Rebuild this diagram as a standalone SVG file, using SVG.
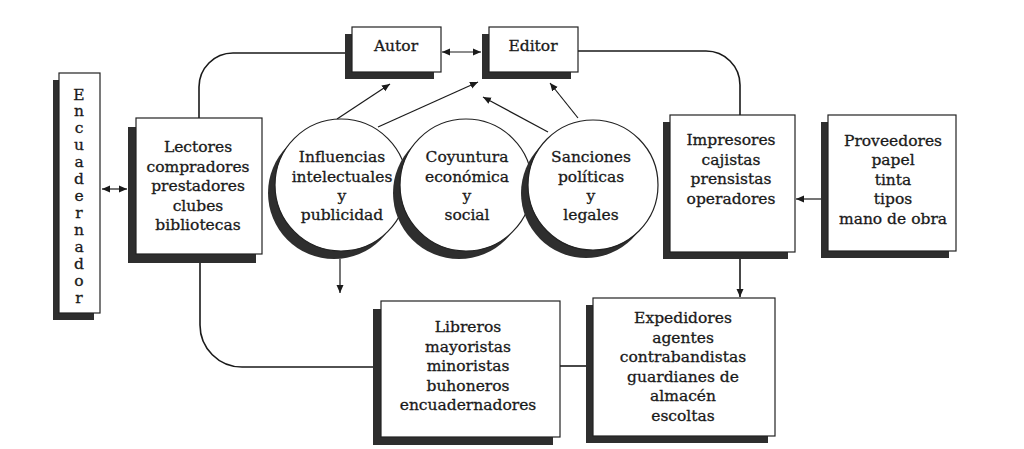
<svg xmlns="http://www.w3.org/2000/svg" width="1024" height="449" viewBox="0 0 1024 449">
<style>
.bx{fill:#fff;stroke:#222;stroke-width:1.2}
.sh{fill:#2e2e2e}
.t{font-family:"DejaVu Serif",serif;font-size:15.5px;fill:#1a1a1a;stroke:#1a1a1a;stroke-width:0.3;text-anchor:middle}
.ln{fill:none;stroke:#1a1a1a;stroke-width:1.6}
.ar{fill:none;stroke:#1a1a1a;stroke-width:1.2}
</style>
<defs>
<marker id="ah" markerUnits="userSpaceOnUse" markerWidth="9" markerHeight="8" refX="8" refY="4" orient="auto-start-reverse">
<path d="M0,0.5 L8,4 L0,7.5 z" fill="#1a1a1a"/>
</marker>
</defs>
<rect width="1024" height="449" fill="#fff"/>

<g id="connectors">
<path class="ln" d="M199,118 V87 A34,34 0 0 1 233,53 H345"/>
<path class="ln" d="M578,51 H706 A34,34 0 0 1 740,85 V115"/>
<path class="ln" d="M200,263 V325 A42,42 0 0 0 242,367 H373"/>
<path class="ln" d="M560,366 H586"/>
<path class="ar" d="M102,189 H127" marker-start="url(#ah)" marker-end="url(#ah)"/>
<path class="ar" d="M442,52 H481" marker-start="url(#ah)" marker-end="url(#ah)"/>
<path class="ar" d="M337,119 L390,84" marker-end="url(#ah)"/>
<path class="ar" d="M378,127 L478,82" marker-end="url(#ah)"/>
<path class="ar" d="M548,132 L483,97" marker-end="url(#ah)"/>
<path class="ar" d="M578,118 L550,83" marker-end="url(#ah)"/>
<path class="ar" d="M340,259 V293" marker-end="url(#ah)"/>
<path class="ar" d="M821,199 H796" marker-end="url(#ah)"/>
<path class="ln" d="M740,259 V297" marker-end="url(#ah)"/>
</g>

<g id="encuadernador">
<rect class="sh" x="53" y="80" width="41" height="240"/>
<rect class="bx" x="59" y="73" width="41" height="240"/>
<text class="t" x="79" y="99.5">E</text>
<text class="t" x="79" y="116">n</text>
<text class="t" x="79" y="133">c</text>
<text class="t" x="79" y="150">u</text>
<text class="t" x="79" y="167">a</text>
<text class="t" x="79" y="184">d</text>
<text class="t" x="79" y="201">e</text>
<text class="t" x="79" y="218">r</text>
<text class="t" x="79" y="235">n</text>
<text class="t" x="79" y="252">a</text>
<text class="t" x="79" y="269">d</text>
<text class="t" x="79" y="286">o</text>
<text class="t" x="79" y="303">r</text>
</g>

<g id="lectores">
<rect class="sh" x="128" y="127" width="128" height="136"/>
<rect class="bx" x="136" y="118" width="126" height="136"/>
<text class="t" x="198" y="152">Lectores</text>
<text class="t" x="198" y="171.5">compradores</text>
<text class="t" x="198" y="191">prestadores</text>
<text class="t" x="198" y="210.5">clubes</text>
<text class="t" x="198" y="230">bibliotecas</text>
</g>

<g id="autor">
<rect class="sh" x="345" y="34" width="89" height="45"/>
<rect class="bx" x="352" y="27" width="89" height="45"/>
<text class="t" x="396" y="51">Autor</text>
</g>

<g id="editor">
<rect class="sh" x="482" y="34" width="89" height="45"/>
<rect class="bx" x="489" y="27" width="89" height="45"/>
<text class="t" x="533" y="51">Editor</text>
</g>

<g id="influencias">
<circle class="sh" cx="334" cy="193" r="66"/>
<circle class="bx" cx="341" cy="185" r="66"/>
<text class="t" x="342" y="162">Influencias</text>
<text class="t" x="342" y="182">intelectuales</text>
<text class="t" x="342" y="201">y</text>
<text class="t" x="342" y="220">publicidad</text>
</g>

<g id="coyuntura">
<circle class="sh" cx="459" cy="193" r="66"/>
<circle class="bx" cx="466" cy="185" r="66"/>
<text class="t" x="467" y="162">Coyuntura</text>
<text class="t" x="467" y="182">económica</text>
<text class="t" x="467" y="201">y</text>
<text class="t" x="467" y="220">social</text>
</g>

<g id="sanciones">
<circle class="sh" cx="586" cy="193" r="65"/>
<circle class="bx" cx="593" cy="185" r="65"/>
<text class="t" x="591" y="162">Sanciones</text>
<text class="t" x="591" y="182">políticas</text>
<text class="t" x="591" y="201">y</text>
<text class="t" x="591" y="220">legales</text>
</g>

<g id="impresores">
<rect class="sh" x="663" y="122" width="125" height="137"/>
<rect class="bx" x="670" y="115" width="125" height="137"/>
<text class="t" x="731" y="145">Impresores</text>
<text class="t" x="731" y="164.5">cajistas</text>
<text class="t" x="731" y="184">prensistas</text>
<text class="t" x="731" y="203.5">operadores</text>
</g>

<g id="proveedores">
<rect class="sh" x="821" y="122" width="128" height="136"/>
<rect class="bx" x="828" y="115" width="128" height="136"/>
<text class="t" x="893" y="145.5">Proveedores</text>
<text class="t" x="893" y="165">papel</text>
<text class="t" x="893" y="184.5">tinta</text>
<text class="t" x="893" y="204">tipos</text>
<text class="t" x="893" y="223.5">mano de obra</text>
</g>

<g id="libreros">
<rect class="sh" x="373" y="309" width="180" height="136"/>
<rect class="bx" x="381" y="301" width="179" height="136"/>
<text class="t" x="468" y="332">Libreros</text>
<text class="t" x="468" y="351.5">mayoristas</text>
<text class="t" x="468" y="371">minoristas</text>
<text class="t" x="468" y="390.5">buhoneros</text>
<text class="t" x="468" y="410">encuadernadores</text>
</g>

<g id="expedidores">
<rect class="sh" x="586" y="305" width="182" height="138"/>
<rect class="bx" x="593" y="298" width="182" height="138"/>
<text class="t" x="683" y="323">Expedidores</text>
<text class="t" x="683" y="342.5">agentes</text>
<text class="t" x="683" y="362">contrabandistas</text>
<text class="t" x="683" y="381.5">guardianes de</text>
<text class="t" x="683" y="401">almacén</text>
<text class="t" x="683" y="420.5">escoltas</text>
</g>
</svg>
